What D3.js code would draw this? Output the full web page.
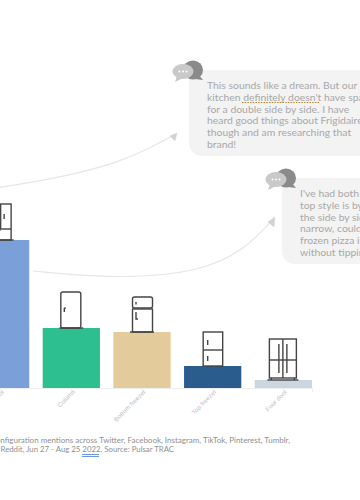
<!DOCTYPE html>
<html>
<head>
<meta charset="utf-8">
<script src="https://cdnjs.cloudflare.com/ajax/libs/d3/7.8.5/d3.min.js"></script>
<style>
  html, body { margin: 0; padding: 0; background: #fff; overflow: hidden; }
  svg { display: block; font-family: Lato, sans-serif; }
  .tick text { fill: #bdbdbd; font-size: 6.2px; letter-spacing: 0.1px; }
  .tick line, .axis path { stroke: #eeeeee; }
  .quote { fill: #a8a8a8; font-size: 10.4px; }
  .foot { fill: #8f8f8f; font-size: 8px; }
</style>
</head>
<body>
<div id="chart"></div>
<script>
const categories = ["French door", "Column", "Bottom freezer", "Top freezer", "Four door"]
const mentions = [37, 15, 14, 5.5, 2]
const barColors = ["#7a9fd9", "#2dbf8f", "#e3cb9b", "#2a5c8e", "#ccd6e0"]

const quoteOne = [
  "This sounds like a dream. But our",
  "kitchen definitely doesn't have space",
  "for a double side by side. I have",
  "heard good things about Frigidaire",
  "though and am researching that",
  "brand!"
]
const quoteTwo = [
  "I've had both styles. The",
  "top style is by far better,",
  "the side by side is too",
  "narrow, couldn't fit a",
  "frozen pizza in there",
  "without tipping it"
]
const footLines = [
  "Refrigerator configuration mentions across Twitter, Facebook, Instagram, TikTok, Pinterest, Tumblr,",
  "Reddit, Jun 27 - Aug 25 2022. Source: Pulsar TRAC"
]

const svg = d3.select("#chart").append("svg").attr("width", 360).attr("height", 500)

const x = d3.scaleBand().domain(categories).range([-28, 312]).paddingInner(0.19)
const y = d3.scaleLinear().domain([0, 50]).range([388, 188])

// Axis
const axis = svg.append("g")
  .attr("class", "axis")
  .attr("transform", `translate(0,${y(0)})`)
  .call(d3.axisBottom(x).tickSize(4).tickPadding(3))
axis.select(".domain").attr("stroke", "#f0f0f0")
axis.selectAll("text")
  .attr("text-anchor", "end")
  .attr("y", 4)
  .attr("dy", "0.32em")
  .attr("transform", "rotate(-45)")

// Bars
svg.selectAll(".bar")
  .data(categories)
  .enter()
  .append("rect")
  .attr("class", "bar")
  .attr("x", (d) => x(d))
  .attr("y", (d, i) => y(mentions[i]))
  .attr("width", x.bandwidth())
  .attr("height", (d, i) => y(0) - y(mentions[i]))
  .attr("fill", (d, i) => barColors[i])

// Fridge icons, drawn relative to the top centre of each bar
function box(g, bx, by, w, h, r) {
  g.append("rect").attr("x", bx).attr("y", by).attr("width", w).attr("height", h).attr("rx", r || 0)
}
function seg(g, x1, y1, x2, y2) {
  g.append("line").attr("x1", x1).attr("y1", y1).attr("x2", x2).attr("y2", y2)
}
const icons = [
  (g) => {
    box(g, -10.5, -36, 21, 36)
    seg(g, 0, -36, 0, -11)
    seg(g, -10.5, -11, 10.5, -11)
    seg(g, 3.5, -26, 3.5, -21)
    seg(g, -3.5, -26, -3.5, -21)
    seg(g, -4, -10, 0, -10)
    seg(g, -12, 0, 13, 0)
  },
  (g) => {
    box(g, -10.5, -36, 20, 36, 2)
    seg(g, -7, -20, -7, -16)
    seg(g, -7, -20, -5.5, -20)
    seg(g, -12, 0, 12, 0)
  },
  (g) => {
    box(g, -9.5, -35, 20, 11, 2)
    box(g, -9.5, -23, 20, 23)
    seg(g, -6, -30, -6, -27.5)
    g.append("path").attr("d", "M-6,-20 V-13 H-4").attr("fill", "none")
    seg(g, -12, 0, 12, 0)
  },
  (g) => {
    box(g, -9.5, -34, 19.5, 34)
    seg(g, -9.5, -16, 10, -16)
    seg(g, -5, -26, -5, -21)
    seg(g, -5, -10, -5, -5)
  },
  (g) => {
    box(g, -14, -41, 27, 39)
    seg(g, -0.5, -41, -0.5, -2)
    seg(g, -14, -20, 13, -20)
    seg(g, -4.5, -36, -4.5, -7)
    seg(g, 3.5, -36, 3.5, -7)
    seg(g, -16, 0, 15, 0)
    seg(g, -12, -2, -12, 0)
    seg(g, 11, -2, 11, 0)
  }
]
categories.forEach((c, i) => {
  const g = svg.append("g")
    .attr("transform", `translate(${x(c) + x.bandwidth() / 2},${y(mentions[i])})`)
    .attr("fill", "#fff")
    .attr("stroke", "#444")
    .attr("stroke-width", 1.4)
  icons[i](g)
})

// Connector arrows
const curve = d3.line().curve(d3.curveBasis)
const arrowOne = [[-10, 189], [60, 178], [120, 162], [150, 148], [176, 134]]
const arrowTwo = [[33, 271], [120, 279], [200, 272], [245, 250], [274, 218]]
;[arrowOne, arrowTwo].forEach((pts) => {
  svg.append("path").attr("d", curve(pts)).attr("fill", "none").attr("stroke", "#e6e6e6").attr("stroke-width", 1.2)
})
svg.append("path").attr("d", "M177,133 L170,136 L175,141 Z").attr("fill", "#d2d2d2").attr("stroke", "#d2d2d2").attr("stroke-width", 0.5)
svg.append("path").attr("d", "M275,217 L268,222 L274,227 Z").attr("fill", "#d2d2d2").attr("stroke", "#d2d2d2").attr("stroke-width", 0.5)

// Quote cards
function quoteCard(cardX, cardY, lines) {
  svg.append("rect")
    .attr("x", cardX).attr("y", cardY)
    .attr("width", 260).attr("height", 86)
    .attr("rx", 13)
    .attr("fill", "#f3f3f3")
  svg.append("g")
    .selectAll("text")
    .data(lines)
    .enter()
    .append("text")
    .attr("class", "quote")
    .attr("x", cardX + 18)
    .attr("y", (d, i) => cardY + 19 + i * 11.8)
    .text((d) => d)

  // Speech bubbles above the corner of the card
  const bubbles = svg.append("g").attr("transform", `translate(${cardX},${cardY})`)
  bubbles.append("ellipse").attr("cx", 4).attr("cy", 0).attr("rx", 10).attr("ry", 9.5).attr("fill", "#8a8a8a")
  bubbles.append("path").attr("d", "M9,4 L14,10 L6,9 Z").attr("fill", "#8a8a8a")
  bubbles.append("ellipse").attr("cx", -6).attr("cy", 1.5).attr("rx", 10.5).attr("ry", 7.5).attr("fill", "#c9c9c9")
  bubbles.append("path").attr("d", "M-12,6 L-14,12 L-6,8 Z").attr("fill", "#c9c9c9")
  bubbles.selectAll("circle")
    .data([-9.5, -6, -2.5])
    .enter()
    .append("circle")
    .attr("cx", (d) => d).attr("cy", 1.5).attr("r", 1).attr("fill", "#fff")
}
quoteCard(189, 70, quoteOne)
quoteCard(282, 178, quoteTwo)

// Spellcheck style underline
svg.append("line")
  .attr("x1", 242).attr("x2", 320).attr("y1", 102.5).attr("y2", 102.5)
  .attr("stroke", "#b9852f").attr("stroke-width", 1.2).attr("stroke-dasharray", "1.5 1.2")

// Footnote
svg.append("text").attr("class", "foot").attr("x", 290).attr("y", 443).attr("text-anchor", "end").text(footLines[0])
svg.append("text").attr("class", "foot").attr("x", 0.5).attr("y", 452).style("font-size", "7.8px").text(footLines[1])
;[454.5, 456.5].forEach((ly) => {
  svg.append("line").attr("x1", 82).attr("x2", 99).attr("y1", ly).attr("y2", ly).attr("stroke", "#6f97dc").attr("stroke-width", 1)
})
</script>
</body>
</html>
